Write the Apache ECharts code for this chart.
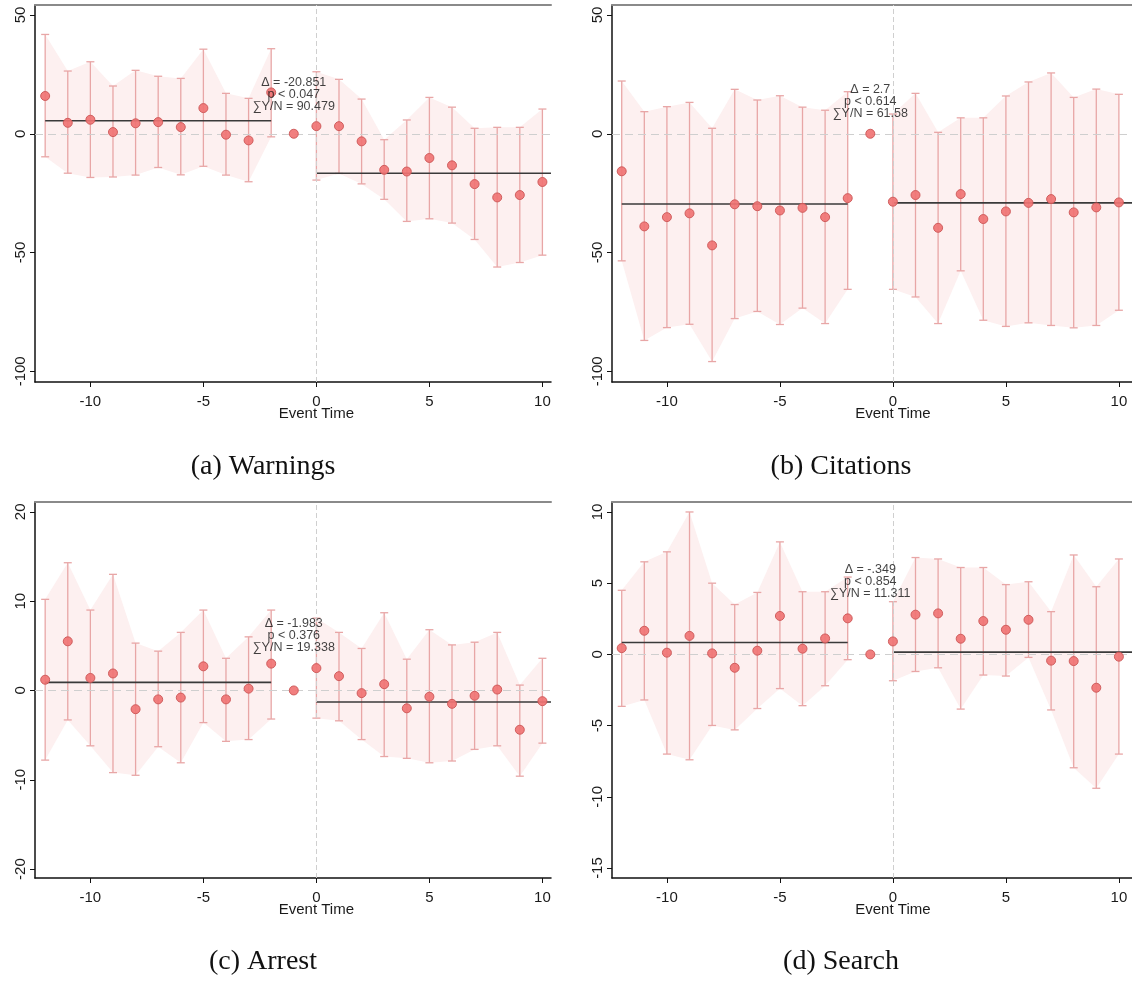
<!DOCTYPE html>
<html>
<head>
<meta charset="utf-8">
<title>Event study estimates</title>
<script src="https://cdn.jsdelivr.net/npm/echarts@6/dist/echarts.min.js"></script>
<style>
  html, body { margin: 0; padding: 0; background: #ffffff; }
  #chart { width: 1132px; height: 981px; }
</style>
</head>
<body>
<div id="chart"></div>
<script>
// Event time (months relative to the change); -1 is the reference period
const eventTime = [-12, -11, -10, -9, -8, -7, -6, -5, -4, -3, -2, -1, 0, 1, 2, 3, 4, 5, 6, 7, 8, 9, 10];

// (a) Warnings: point estimates and 95% bounds
const warnEst = [15.9, 4.6, 5.9, 0.7, 4.4, 4.9, 2.8, 10.8, -0.4, -2.8, 17.4, 0, 3.2, 3.2, -3.2, -15.2, -15.9, -10.2, -13.3, -21.2, -26.8, -25.8, -20.3];
const warnHi  = [41.8, 26.4, 30.3, 20.1, 26.7, 24.2, 23.3, 35.6, 17.0, 14.9, 35.8, null, 26.1, 22.9, 14.6, -2.5, 5.8, 15.3, 11.2, 2.3, 2.7, 2.7, 10.4];
const warnLo  = [-9.7, -16.6, -18.4, -18.2, -17.4, -14.2, -17.3, -13.7, -17.4, -20.2, -1.3, null, -19.5, -16.7, -21.1, -27.6, -36.9, -35.8, -37.6, -44.5, -56.1, -54.2, -51.1];
const warnMeans = [5.5, -16.6];
const warnNote = ['Δ = -20.851', 'p < 0.047', '∑Y/N = 90.479'];

// (b) Citations
const citeEst = [-15.8, -39.0, -35.1, -33.5, -47.0, -29.7, -30.5, -32.3, -31.2, -35.1, -27.1, 0, -28.6, -25.8, -39.6, -25.4, -35.9, -32.7, -29.1, -27.5, -33.1, -31.0, -28.9];
const citeHi  = [22.2, 9.3, 11.4, 13.2, 2.3, 18.7, 14.2, 16.0, 11.2, 9.9, 17.7, null, 8.3, 17.0, 0.6, 6.7, 6.7, 15.9, 21.8, 25.6, 15.3, 18.8, 16.6];
const citeLo  = [-53.5, -87.0, -81.6, -80.2, -95.9, -77.8, -74.8, -80.3, -73.4, -79.9, -65.5, null, -65.5, -68.7, -79.9, -57.7, -78.5, -81.1, -79.6, -80.7, -81.7, -80.7, -74.3];
const citeMeans = [-29.6, -29.1];
const citeNote = ['Δ = 2.7', 'p < 0.614', '∑Y/N = 61.58'];

// (c) Arrest
const arrEst = [1.2, 5.5, 1.4, 1.9, -2.1, -1.0, -0.8, 2.7, -1.0, 0.2, 3.0, 0, 2.5, 1.6, -0.3, 0.7, -2.0, -0.7, -1.5, -0.6, 0.1, -4.4, -1.2];
const arrHi  = [10.2, 14.3, 9.0, 13.0, 5.3, 4.4, 6.5, 9.0, 3.6, 6.0, 9.0, null, 8.1, 6.5, 4.7, 8.7, 3.5, 6.8, 5.1, 5.4, 6.5, 0.6, 3.6];
const arrLo  = [-7.8, -3.3, -6.2, -9.2, -9.5, -6.3, -8.1, -3.6, -5.7, -5.5, -3.2, null, -3.1, -3.4, -5.5, -7.4, -7.6, -8.1, -7.9, -6.6, -6.2, -9.6, -5.9];
const arrMeans = [0.9, -1.3];
const arrNote = ['Δ = -1.983', 'p < 0.376', '∑Y/N = 19.338'];

// (d) Search
const srchEst = [0.44, 1.66, 0.12, 1.3, 0.07, -0.94, 0.26, 2.7, 0.4, 1.12, 2.53, 0, 0.91, 2.79, 2.88, 1.1, 2.34, 1.73, 2.43, -0.44, -0.47, -2.34, -0.16];
const srchHi  = [4.5, 6.5, 7.2, 10.0, 5.0, 3.5, 4.35, 7.9, 4.4, 4.4, 5.43, null, 3.7, 6.8, 6.7, 6.1, 6.1, 4.9, 5.1, 3.0, 6.98, 4.75, 6.7];
const srchLo  = [-3.65, -3.2, -7.0, -7.4, -4.99, -5.3, -3.8, -2.4, -3.6, -2.2, -0.37, null, -1.85, -1.2, -0.94, -3.84, -1.45, -1.52, -0.21, -3.9, -7.96, -9.4, -7.0];
const srchMeans = [0.84, 0.16];
const srchNote = ['Δ = -.349', 'p < 0.854', '∑Y/N = 11.311'];

// Tick labels
const xTicks = [-10, -5, 0, 5, 10];
const yTicksCounts = [50, 0, -50, -100];
const yTicksArrest = [20, 10, 0, -10, -20];
const yTicksSearch = [10, 5, 0, -5, -10, -15];

const captions = ['(a) Warnings', '(b) Citations', '(c) Arrest', '(d) Search'];
const axisTitle = 'Event Time';

// Layout of the four panels
const panels = [
  { est: warnEst, hi: warnHi, lo: warnLo, means: warnMeans, note: warnNote, noteY: 16.4, yTicks: yTicksCounts,
    grid: { left: 35, top: 5, width: 516, height: 377 }, x: [-12.45, 10.38], y: [-104.5, 54.2], cap: [263, 467] },
  { est: citeEst, hi: citeHi, lo: citeLo, means: citeMeans, note: citeNote, noteY: 13.5, yTicks: yTicksCounts,
    grid: { left: 612, top: 5, width: 520, height: 377 }, x: [-12.43, 10.58], y: [-104.5, 54.2], cap: [841, 467] },
  { est: arrEst, hi: arrHi, lo: arrLo, means: arrMeans, note: arrNote, noteY: 6.1, yTicks: yTicksArrest,
    grid: { left: 35, top: 502, width: 516, height: 376 }, x: [-12.45, 10.38], y: [-21.0, 21.1], cap: [263, 962] },
  { est: srchEst, hi: srchHi, lo: srchLo, means: srchMeans, note: srchNote, noteY: 5.1, yTicks: yTicksSearch,
    grid: { left: 612, top: 502, width: 520, height: 376 }, x: [-12.43, 10.58], y: [-15.7, 10.7], cap: [841, 962] }
];

const BAND = '#fdf0f0';
const BAR = '#e8a6a6';
const DOT = '#f07474';
const DOT_EDGE = '#cc5757';
const MEAN = '#3a3a3a';
const ZERO = '#cfcfcf';
const INK = '#1a1a1a';
const SANS = '"Liberation Sans", Arial, sans-serif';

const grids = [], xAxes = [], yAxes = [], series = [];

panels.forEach((p, gi) => {
  grids.push(Object.assign({ containLabel: false }, p.grid));

  // bottom axis with ticks and labels
  xAxes.push({
    type: 'value', gridIndex: gi, position: 'bottom', min: p.x[0], max: p.x[1],
    axisLine: { show: true, onZero: false, lineStyle: { color: '#111', width: 1.5 } },
    axisTick: { show: true, customValues: xTicks, length: 5, lineStyle: { color: '#111', width: 1 } },
    axisLabel: { show: true, customValues: xTicks, fontSize: 15, color: INK, margin: 12, fontFamily: SANS },
    splitLine: { show: false }
  });
  // top frame line
  xAxes.push({
    type: 'value', gridIndex: gi, position: 'top', min: p.x[0], max: p.x[1],
    axisLine: { show: true, onZero: false, lineStyle: { color: '#8a8a8a', width: 2 } },
    axisTick: { show: false }, axisLabel: { show: false }, splitLine: { show: false }
  });
  yAxes.push({
    type: 'value', gridIndex: gi, min: p.y[0], max: p.y[1],
    axisLine: { show: true, onZero: false, lineStyle: { color: '#111', width: 1.5 } },
    axisTick: { show: true, customValues: p.yTicks, length: 5, lineStyle: { color: '#111', width: 1 } },
    axisLabel: { show: true, customValues: p.yTicks, rotate: 90, fontSize: 15, color: INK, margin: 7, fontFamily: SANS },
    splitLine: { show: false }
  });

  const xi = gi * 2, yi = gi;

  // confidence bands, drawn separately before and after the event
  const idxPre = [], idxPost = [];
  eventTime.forEach((t, i) => {
    if (p.hi[i] == null) return;
    (t < 0 ? idxPre : idxPost).push(i);
  });
  [idxPre, idxPost].forEach(idx => {
    const pts = idx.map(i => [eventTime[i], p.lo[i], p.hi[i]]);
    series.push({
      type: 'custom', xAxisIndex: xi, yAxisIndex: yi, silent: true, z: 1,
      data: pts, encode: { x: 0, y: [1, 2] },
      renderItem(params, api) {
        if (params.dataIndex !== 0) return null;
        const upper = pts.map(d => api.coord([d[0], d[2]]));
        const lower = pts.map(d => api.coord([d[0], d[1]])).reverse();
        return { type: 'polygon', shape: { points: upper.concat(lower) }, style: { fill: BAND } };
      }
    });
  });

  // dashed reference lines at y = 0 and event time 0
  series.push({
    type: 'line', xAxisIndex: xi, yAxisIndex: yi, data: [], silent: true, z: 2,
    markLine: {
      silent: true, symbol: ['none', 'none'], label: { show: false },
      data: [
        { yAxis: 0, lineStyle: { color: ZERO, type: [8, 5], width: 1.2 } },
        { xAxis: 0, lineStyle: { color: ZERO, type: [5, 3], width: 1 } }
      ]
    }
  });

  // error bars with caps
  const barData = [];
  eventTime.forEach((t, i) => { if (p.hi[i] != null) barData.push([t, p.lo[i], p.hi[i]]); });
  series.push({
    type: 'custom', xAxisIndex: xi, yAxisIndex: yi, silent: true, z: 3,
    data: barData, encode: { x: 0, y: [1, 2] },
    renderItem(params, api) {
      const lo = api.coord([api.value(0), api.value(1)]);
      const hi = api.coord([api.value(0), api.value(2)]);
      const w = 4;
      const st = { stroke: BAR, lineWidth: 1.3 };
      return {
        type: 'group', children: [
          { type: 'line', shape: { x1: lo[0], y1: lo[1], x2: hi[0], y2: hi[1] }, style: st },
          { type: 'line', shape: { x1: hi[0] - w, y1: hi[1], x2: hi[0] + w, y2: hi[1] }, style: st },
          { type: 'line', shape: { x1: lo[0] - w, y1: lo[1], x2: lo[0] + w, y2: lo[1] }, style: st }
        ]
      };
    }
  });

  // pre- and post-period means
  series.push({
    type: 'line', xAxisIndex: xi, yAxisIndex: yi, silent: true, z: 4, symbol: 'none',
    data: [[eventTime[0], p.means[0]], [-2, p.means[0]]],
    lineStyle: { color: MEAN, width: 1.6 }
  });
  series.push({
    type: 'line', xAxisIndex: xi, yAxisIndex: yi, silent: true, z: 4, symbol: 'none',
    data: [[0, p.means[1]], [p.x[1], p.means[1]]],
    lineStyle: { color: MEAN, width: 1.6 }
  });

  // point estimates
  series.push({
    type: 'scatter', xAxisIndex: xi, yAxisIndex: yi, silent: true, z: 5,
    symbolSize: 9,
    data: eventTime.map((t, i) => [t, p.est[i]]),
    itemStyle: { color: DOT, borderColor: DOT_EDGE, borderWidth: 1, opacity: 0.92 }
  });

  // effect summary text
  series.push({
    type: 'scatter', xAxisIndex: xi, yAxisIndex: yi, silent: true, z: 10,
    symbolSize: 1, data: [[-1, p.noteY]],
    itemStyle: { color: 'transparent' },
    label: {
      show: true, position: 'inside', formatter: p.note.join('\n'),
      fontSize: 12.5, lineHeight: 12, color: '#111', fontFamily: SANS, align: 'center'
    }
  });
});

const chart = echarts.init(document.getElementById('chart'), null, { renderer: 'canvas' });
chart.setOption({
  backgroundColor: '#ffffff',
  animation: false,
  grid: grids, xAxis: xAxes, yAxis: yAxes, series: series
});

// axis titles centred on event time 0, plus panel captions
const graphics = [];
panels.forEach((p, gi) => {
  const pt = chart.convertToPixel({ xAxisIndex: gi * 2, yAxisIndex: gi }, [0, p.y[0]]);
  graphics.push({
    type: 'text', x: pt[0], y: pt[1] + 32,
    style: { text: axisTitle, font: '15px ' + SANS, fill: INK, align: 'center', verticalAlign: 'middle' }
  });
  graphics.push({
    type: 'text', x: p.cap[0], y: p.cap[1],
    style: { text: captions[gi], font: '28px "Liberation Serif", "DejaVu Serif", serif', fill: '#111', align: 'center', verticalAlign: 'middle' }
  });
});
chart.setOption({ graphic: graphics });
</script>
</body>
</html>
